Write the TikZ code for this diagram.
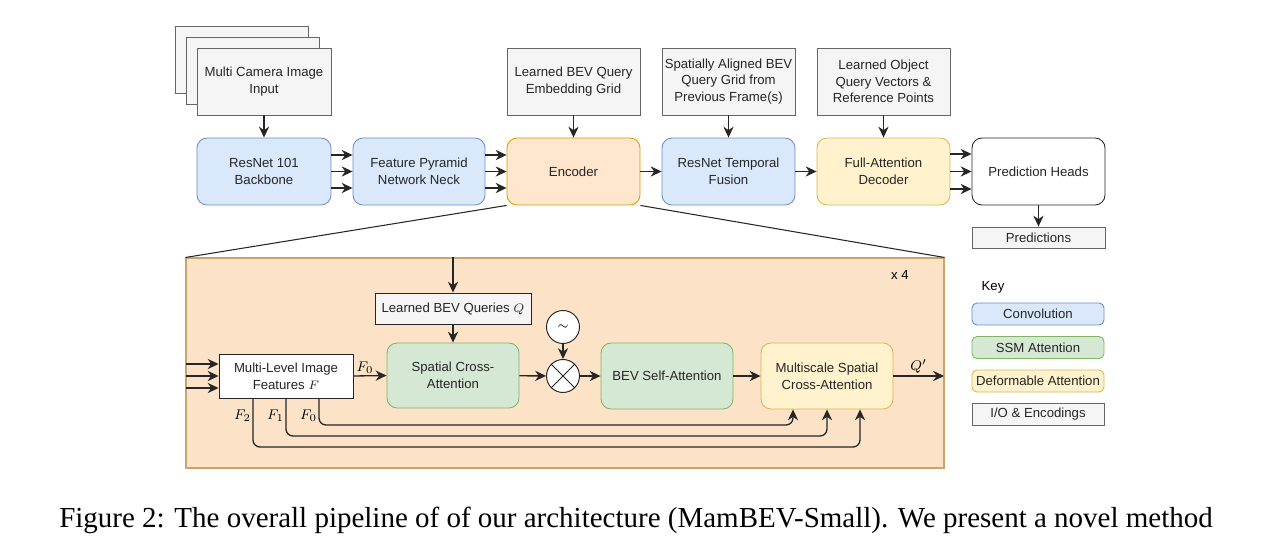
\documentclass[tikz,border=0pt]{standalone}
\usepackage[no-math]{fontspec}
\setmainfont{Liberation Sans}
\newfontfamily\capfont{Liberation Serif}
\usetikzlibrary{arrows.meta,calc}
\definecolor{convF}{HTML}{DAE8FC}\definecolor{convD}{HTML}{6C8EBF}
\definecolor{ssmF}{HTML}{D5E8D4}\definecolor{ssmD}{HTML}{82B366}
\definecolor{defF}{HTML}{FFF2CC}\definecolor{defD}{HTML}{D6B656}
\definecolor{ioF}{HTML}{F5F5F5}\definecolor{ioD}{HTML}{666666}
\definecolor{encF}{HTML}{FFE6CC}\definecolor{encD}{HTML}{D79B00}
\definecolor{bigF}{HTML}{FCE3C7}\definecolor{bigD}{HTML}{C9A46E}
\begin{document}
\begin{tikzpicture}[x=0.02cm,y=-0.02cm,
  font=\fontsize{7.5}{9.5}\selectfont,
  wh/.style 2 args={minimum width=#1*0.02cm, minimum height=#2*0.02cm},
  box/.style={draw, inner sep=0pt, align=center, line width=0.5pt, text=black!85},
  conv/.style={box, fill=convF, draw=convD, rounded corners=0.2cm},
  ssm/.style={box, fill=ssmF, draw=ssmD, rounded corners=0.2cm},
  defo/.style={box, fill=defF, draw=defD, rounded corners=0.2cm},
  io/.style={box, fill=ioF, draw=ioD},
  enco/.style={box, fill=encF, draw=encD, rounded corners=0.2cm},
  plain/.style={box, fill=white, draw=black!85},
  circ/.style={circle, draw=black!85, fill=white, line width=0.55pt, inner sep=0pt, minimum size=0.66cm},
  arr/.style={-{Stealth[length=6.2pt,width=5.8pt]}, line width=0.75pt, draw=black!85},
  lbl/.style={inner sep=1pt, font=\fontsize{8}{9.5}\selectfont},
]
\useasboundingbox (0,0) rectangle (1272,541);

% ---------- top row ----------
\node[io, wh={133}{67}] (cam3) at (241.5,59.5) {};
\node[io, wh={133}{67}] (cam2) at (252.5,70.5) {};
\node[io, wh={134}{67}] (cam1) at (264,81.5) {Multi Camera Image\\Input};

\node[conv, wh={134}{67}] (resnet) at (264,171.5) {ResNet 101\\Backbone};
\node[conv, wh={132}{67}] (fpn) at (419,171.5) {Feature Pyramid\\Network Neck};
\node[enco, wh={133}{67}] (enc) at (573.5,171.5) {Encoder};
\node[io, wh={133}{67}] (bevgrid) at (573.5,81.5) {Learned BEV Query\\Embedding Grid};
\node[conv, wh={133}{67}] (rtf) at (728.5,171.5) {ResNet Temporal\\Fusion};
\node[io, wh={133}{67}] (prevq) at (728.5,81.5) {Spatially Aligned BEV\\Query Grid from\\Previous Frame(s)};
\node[defo, wh={133}{67}] (dec) at (883.5,171.5) {Full-Attention\\Decoder};
\node[io, wh={133}{67}] (objq) at (883.5,81.5) {Learned Object\\Query Vectors \&\\Reference Points};
\node[plain, rounded corners=0.2cm, wh={133}{67}] (heads) at (1038.5,171.5) {Prediction Heads};
\node[io, wh={133}{21}] (pred) at (1038.5,237.5) {Predictions};

\draw[arr] (cam1) -- (resnet);
\draw[arr] (bevgrid) -- (enc);
\draw[arr] (prevq) -- (rtf);
\draw[arr] (objq) -- (dec);
\draw[arr] (heads) -- (pred);
\foreach \s in {0.33cm,0cm,-0.33cm}{
  \draw[arr] ([yshift=\s]resnet.east) -- ([yshift=\s]fpn.west);
  \draw[arr] ([yshift=\s]fpn.east) -- ([yshift=\s]enc.west);
}
\foreach \s in {0.35cm,0cm,-0.35cm}{
  \draw[arr] ([yshift=\s]dec.east) -- ([yshift=\s]heads.west);
}
\draw[arr] (enc) -- (rtf);
\draw[arr] (rtf) -- (dec);

% ---------- encoder detail ----------
\node[draw=bigD, fill=bigF, line width=0.6pt, inner sep=0pt, wh={758}{210}] (big) at (565,363) {};
\draw[line width=0.6pt, black!85] (enc.south west) -- (big.north west);
\draw[line width=0.6pt, black!85] (enc.south east) -- (big.north east);
\node[lbl, font=\fontsize{7.5}{9.5}\selectfont] (x4) at (900,275) {x 4};

\node[plain, fill=ioF, wh={156}{31}] (bevq) at (453,308.5) {Learned BEV Queries $Q$};
\node[plain, wh={134}{44}] (mlif) at (286,376) {Multi-Level Image\\Features $F$};
\node[ssm, wh={132}{65}] (sca) at (453,375.5) {Spatial Cross-\\Attention};
\node[circ] (tilde) at (563,327) {$\sim$};
\node[circ] (otimes) at (563,376) {};
\draw[line width=0.55pt, black!85] (otimes.north east) -- (otimes.south west)
  (otimes.north west) -- (otimes.south east);
\node[ssm, wh={132}{66}] (bevsa) at (667,376) {BEV Self-Attention};
\node[defo, wh={132}{66}] (msca) at (827,376) {Multiscale Spatial\\Cross-Attention};

\coordinate (qout) at (944,376);
\coordinate (in1) at (186,364);
\coordinate (in2) at (186,376);
\coordinate (in3) at (186,388);
\foreach \c in {in1,in2,in3}{ \draw[arr] (\c) -- (\c -| mlif.west); }

\draw[arr] (bevq.north |- big.north) -- (bevq.north);
\draw[arr] (bevq) -- (sca);
\draw[arr] (mlif.east) -- node[lbl, above, pos=0.35] {$F_0$} (sca.west);
\draw[arr] (sca) -- (otimes);
\draw[arr] (tilde) -- (otimes);
\draw[arr] (otimes) -- (bevsa);
\draw[arr] (bevsa) -- (msca);
\draw[arr] (msca.east) -- node[lbl, above] {$Q'$} (qout);

\coordinate (t0) at (793,425);
\coordinate (t1) at (827,436);
\coordinate (t2) at (860,447);
\draw[arr, rounded corners=0.14cm] ([xshift=0.66cm]mlif.south) |- (t0) -- (msca.south -| t0);
\draw[arr, rounded corners=0.14cm] (mlif.south) |- (t1) -- (msca.south -| t1);
\draw[arr, rounded corners=0.14cm] ([xshift=-0.66cm]mlif.south) |- (t2) -- (msca.south -| t2);
\node[lbl, anchor=east] (lf0) at ([xshift=0.66cm,yshift=-0.34cm]mlif.south) {$F_0$};
\node[lbl, anchor=east] (lf1) at ([yshift=-0.34cm]mlif.south) {$F_1$};
\node[lbl, anchor=east] (lf2) at ([xshift=-0.66cm,yshift=-0.34cm]mlif.south) {$F_2$};

% ---------- key ----------
\node (key) at (993,287) {Key};
\node[conv, rounded corners=0.1cm, wh={132}{22}] (k1) at (1038,314) {Convolution};
\node[ssm, rounded corners=0.1cm, wh={132}{22}] (k2) at (1038,347.5) {SSM Attention};
\node[defo, rounded corners=0.1cm, wh={132}{22}] (k3) at (1038,381) {Deformable Attention};
\node[io, wh={132}{22}] (k4) at (1038,414) {I/O \& Encodings};

% ---------- caption ----------
\node[inner sep=0pt, font=\capfont\fontsize{16.5}{19}\selectfont] (cap) at (636,520)
  {Figure 2: The overall pipeline of of our architecture (MamBEV-Small). We present a novel method};
\end{tikzpicture}
\end{document}
